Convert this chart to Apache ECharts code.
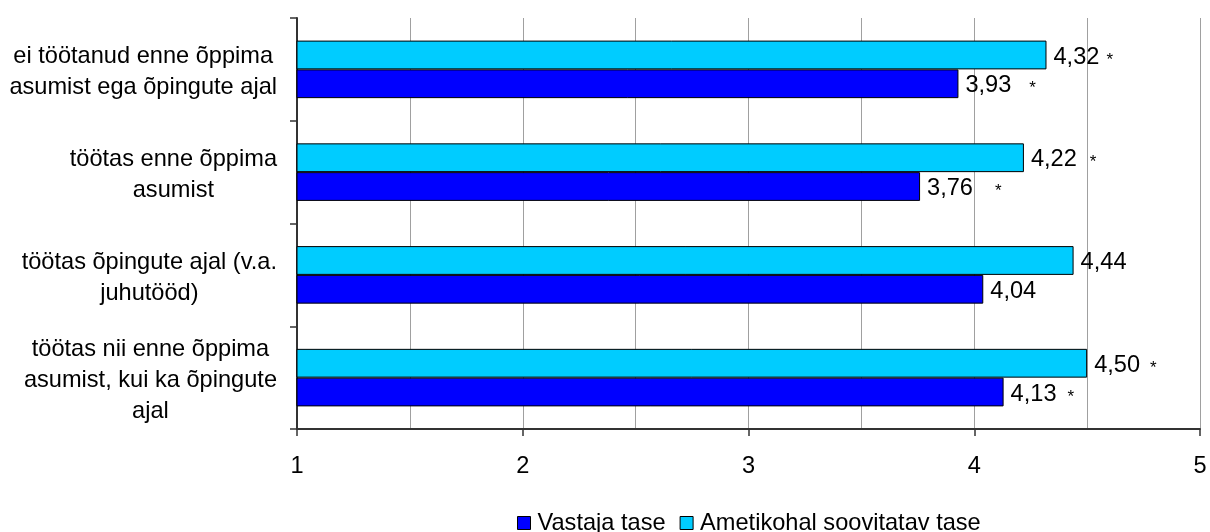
<!DOCTYPE html>
<html>
<head>
<meta charset="utf-8">
<script src="https://cdn.jsdelivr.net/npm/echarts@6/dist/echarts.min.js"></script>
<style>
html,body{margin:0;padding:0;background:#fff;}
#c{width:1210px;height:532px;}
</style>
</head>
<body>
<div id="c"></div>
<script>
// ---- data ----
const categories = [
  'ei töötanud enne õppima\nasumist ega õpingute ajal',
  'töötas enne õppima\nasumist',
  'töötas õpingute ajal (v.a.\njuhutööd)',
  'töötas nii enne õppima\nasumist, kui ka õpingute\najal'
];
const seriesNames = ['Vastaja tase', 'Ametikohal soovitatav tase'];
const vastajaTase = [3.93, 3.76, 4.04, 4.13];
const ametikohTase = [4.32, 4.22, 4.44, 4.50];
const vastajaStar = [true, true, false, true];
const ametikohStar = [true, true, false, true];
const axisMin = 1, axisMax = 5, axisStep = 1;

// ---- styling (not data) ----
const FONT = 'Liberation Sans, Arial, sans-serif';
const FS = 23.6;
const starGapV = [18, 22, 0, 11];
const starGapA = [7, 13, 0, 10];

function fmt(v){ return v.toFixed(2).replace('.', ','); }
function makeRich(gaps){
  const r = { v: { fontSize: FS, fontFamily: FONT, color: '#000' } };
  gaps.forEach(g => {
    r['s' + g] = { fontSize: 17, fontFamily: FONT, color: '#000', padding: [6, 0, 0, g] };
  });
  return r;
}
function labelFor(stars, gaps){
  return {
    show: true, position: 'right', distance: 7, offset: [0, 2],
    formatter: p => '{v|' + fmt(p.value) + '}' + (stars[p.dataIndex] ? '{s' + gaps[p.dataIndex] + '|*}' : ''),
    rich: makeRich(gaps)
  };
}

const chart = echarts.init(document.getElementById('c'), null, { renderer: 'canvas' });
chart.setOption({
  animation: false,
  textStyle: { fontFamily: FONT },
  grid: { left: 297, right: 10, top: 18, bottom: 103, containLabel: false },
  legend: {
    data: seriesNames,
    left: 512, top: 506,
    itemWidth: 13, itemHeight: 13, itemGap: 14,
    icon: 'rect',
    textStyle: { fontSize: FS, fontFamily: FONT, color: '#000', padding: [0,0,0,2] },
    itemStyle: { borderColor: '#000', borderWidth: 1 }
  },
  xAxis: {
    type: 'value', min: axisMin, max: axisMax, interval: axisStep,
    axisLine: { show: true, onZero: false, lineStyle: { color: '#333', width: 2 } },
    axisTick: { show: true, length: 7, lineStyle: { color: '#333', width: 1.5 } },
    axisLabel: { fontSize: FS, fontFamily: FONT, color: '#000', margin: 25 },
    splitLine: { show: true, lineStyle: { color: '#a0a0a0', width: 1 } },
    minorTick: { show: false, splitNumber: 2 },
    minorSplitLine: { show: true, lineStyle: { color: '#a0a0a0', width: 1 } }
  },
  yAxis: {
    type: 'category', data: categories, inverse: true,
    axisLine: { show: true, lineStyle: { color: '#333', width: 2 } },
    axisTick: { show: true, length: 7, lineStyle: { color: '#333', width: 1.5 } },
    splitLine: { show: false },
    axisLabel: {
      margin: 20,
      padding: [6, 0, 0, 0],
      formatter: v => v.split('\n').map(l => '{c|' + l + '}').join('\n'),
      rich: { c: { fontSize: FS, fontFamily: FONT, color: '#000', align: 'center', lineHeight: 31 } }
    }
  },
  series: [
    {
      name: seriesNames[1], type: 'bar', data: ametikohTase,
      barGap: '0%', barCategoryGap: '44%',
      itemStyle: { color: '#00CCFF', borderColor: '#000', borderWidth: 1 },
      label: labelFor(ametikohStar, starGapA)
    },
    {
      name: seriesNames[0], type: 'bar', data: vastajaTase,
      barGap: '0%', barCategoryGap: '44%',
      itemStyle: { color: '#0000FF', borderColor: '#000', borderWidth: 1 },
      label: labelFor(vastajaStar, starGapV)
    }
  ]
});
</script>
</body>
</html>
